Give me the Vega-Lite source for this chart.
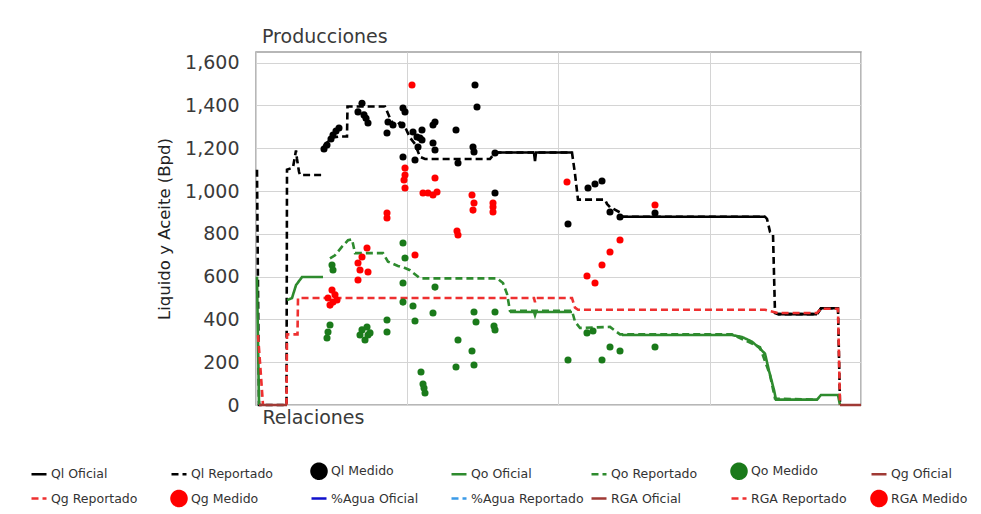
{
  "$schema": "https://vega.github.io/schema/vega-lite/v6.json",
  "width": 605,
  "height": 353,
  "autosize": "none",
  "padding": {"left": 256, "top": 52, "right": 120, "bottom": 109},
  "background": "white",
  "title": {"text": "Producciones", "anchor": "start", "frame": "group", "font": "DejaVu Sans", "fontSize": 19, "fontWeight": "normal", "color": "#3a3a3a", "offset": 5, "dx": 6},
  "config": {
    "view": {"stroke": "#a0a0a0", "strokeWidth": 1.5},
    "axis": {"gridColor": "#d4d4d4", "gridWidth": 1, "ticks": false, "domain": false}
  },
  "datasets": {
    "lineas": [
      {"serie": "Ql Reportado", "tramo": "a", "x": 1, "y": 1100},
      {"serie": "Ql Reportado", "tramo": "a", "x": 3, "y": 0},
      {"serie": "Ql Reportado", "tramo": "a", "x": 30.5, "y": 0},
      {"serie": "Ql Reportado", "tramo": "a", "x": 31, "y": 1100},
      {"serie": "Ql Reportado", "tramo": "a", "x": 37, "y": 1110},
      {"serie": "Ql Reportado", "tramo": "a", "x": 40, "y": 1190},
      {"serie": "Ql Reportado", "tramo": "a", "x": 41, "y": 1150},
      {"serie": "Ql Reportado", "tramo": "a", "x": 43, "y": 1090},
      {"serie": "Ql Reportado", "tramo": "a", "x": 44, "y": 1075},
      {"serie": "Ql Reportado", "tramo": "a", "x": 67, "y": 1075},
      {"serie": "Ql Reportado", "tramo": "b", "x": 67.5, "y": 1210},
      {"serie": "Ql Reportado", "tramo": "b", "x": 74, "y": 1240},
      {"serie": "Ql Reportado", "tramo": "b", "x": 77, "y": 1250},
      {"serie": "Ql Reportado", "tramo": "b", "x": 84, "y": 1255},
      {"serie": "Ql Reportado", "tramo": "b", "x": 91, "y": 1255},
      {"serie": "Ql Reportado", "tramo": "b", "x": 91.5, "y": 1395},
      {"serie": "Ql Reportado", "tramo": "b", "x": 129, "y": 1395},
      {"serie": "Ql Reportado", "tramo": "b", "x": 134, "y": 1340},
      {"serie": "Ql Reportado", "tramo": "b", "x": 139, "y": 1300},
      {"serie": "Ql Reportado", "tramo": "b", "x": 144, "y": 1320},
      {"serie": "Ql Reportado", "tramo": "b", "x": 149, "y": 1300},
      {"serie": "Ql Reportado", "tramo": "b", "x": 154, "y": 1250},
      {"serie": "Ql Reportado", "tramo": "b", "x": 159, "y": 1220},
      {"serie": "Ql Reportado", "tramo": "b", "x": 164, "y": 1160},
      {"serie": "Ql Reportado", "tramo": "b", "x": 169, "y": 1150},
      {"serie": "Ql Reportado", "tramo": "b", "x": 234, "y": 1150},
      {"serie": "Ql Reportado", "tramo": "b", "x": 239, "y": 1180},
      {"serie": "Ql Reportado", "tramo": "b", "x": 316, "y": 1180},
      {"serie": "Ql Reportado", "tramo": "b", "x": 319, "y": 1080},
      {"serie": "Ql Reportado", "tramo": "b", "x": 321, "y": 1000},
      {"serie": "Ql Reportado", "tramo": "b", "x": 322, "y": 960},
      {"serie": "Ql Reportado", "tramo": "b", "x": 349, "y": 960},
      {"serie": "Ql Reportado", "tramo": "b", "x": 351, "y": 940},
      {"serie": "Ql Reportado", "tramo": "b", "x": 354, "y": 925},
      {"serie": "Ql Reportado", "tramo": "b", "x": 364, "y": 900},
      {"serie": "Ql Reportado", "tramo": "b", "x": 366, "y": 880},
      {"serie": "Ql Reportado", "tramo": "b", "x": 509, "y": 880},
      {"serie": "Ql Reportado", "tramo": "b", "x": 511, "y": 870},
      {"serie": "Ql Reportado", "tramo": "b", "x": 514, "y": 810},
      {"serie": "Ql Reportado", "tramo": "b", "x": 517, "y": 800},
      {"serie": "Ql Reportado", "tramo": "b", "x": 519, "y": 430},
      {"serie": "Ql Reportado", "tramo": "b", "x": 522, "y": 425},
      {"serie": "Ql Reportado", "tramo": "b", "x": 561, "y": 425},
      {"serie": "Ql Reportado", "tramo": "b", "x": 565, "y": 452},
      {"serie": "Ql Reportado", "tramo": "b", "x": 582, "y": 452},
      {"serie": "Ql Reportado", "tramo": "b", "x": 584, "y": 0},
      {"serie": "Ql Oficial", "tramo": "a", "x": 239, "y": 1180},
      {"serie": "Ql Oficial", "tramo": "a", "x": 278, "y": 1180},
      {"serie": "Ql Oficial", "tramo": "a", "x": 279, "y": 1140},
      {"serie": "Ql Oficial", "tramo": "a", "x": 280, "y": 1180},
      {"serie": "Ql Oficial", "tramo": "a", "x": 316, "y": 1180},
      {"serie": "Ql Oficial", "tramo": "b", "x": 366, "y": 880},
      {"serie": "Ql Oficial", "tramo": "b", "x": 509, "y": 880},
      {"serie": "Ql Oficial", "tramo": "c", "x": 522, "y": 425},
      {"serie": "Ql Oficial", "tramo": "c", "x": 561, "y": 425},
      {"serie": "Ql Oficial", "tramo": "c", "x": 565, "y": 452},
      {"serie": "Ql Oficial", "tramo": "c", "x": 582, "y": 452},
      {"serie": "Qo Oficial", "tramo": "a", "x": 1, "y": 600},
      {"serie": "Qo Oficial", "tramo": "a", "x": 3, "y": 0},
      {"serie": "Qo Oficial", "tramo": "b", "x": 31, "y": 490},
      {"serie": "Qo Oficial", "tramo": "b", "x": 36, "y": 500},
      {"serie": "Qo Oficial", "tramo": "b", "x": 40, "y": 560},
      {"serie": "Qo Oficial", "tramo": "b", "x": 46, "y": 598},
      {"serie": "Qo Oficial", "tramo": "b", "x": 67, "y": 598},
      {"serie": "Qo Oficial", "tramo": "c", "x": 254, "y": 435},
      {"serie": "Qo Oficial", "tramo": "c", "x": 278, "y": 435},
      {"serie": "Qo Oficial", "tramo": "c", "x": 279, "y": 420},
      {"serie": "Qo Oficial", "tramo": "c", "x": 280, "y": 435},
      {"serie": "Qo Oficial", "tramo": "c", "x": 316, "y": 435},
      {"serie": "Qo Oficial", "tramo": "d", "x": 366, "y": 327},
      {"serie": "Qo Oficial", "tramo": "d", "x": 476, "y": 327},
      {"serie": "Qo Oficial", "tramo": "d", "x": 486, "y": 318},
      {"serie": "Qo Oficial", "tramo": "d", "x": 496, "y": 296},
      {"serie": "Qo Oficial", "tramo": "d", "x": 503, "y": 268},
      {"serie": "Qo Oficial", "tramo": "d", "x": 509, "y": 240},
      {"serie": "Qo Oficial", "tramo": "d", "x": 513, "y": 160},
      {"serie": "Qo Oficial", "tramo": "d", "x": 518, "y": 70},
      {"serie": "Qo Oficial", "tramo": "d", "x": 520, "y": 25},
      {"serie": "Qo Oficial", "tramo": "d", "x": 561, "y": 25},
      {"serie": "Qo Oficial", "tramo": "d", "x": 565, "y": 47},
      {"serie": "Qo Oficial", "tramo": "d", "x": 582, "y": 47},
      {"serie": "Qo Oficial", "tramo": "d", "x": 584, "y": 0},
      {"serie": "Qo Reportado", "tramo": "a", "x": 74, "y": 685},
      {"serie": "Qo Reportado", "tramo": "a", "x": 79, "y": 700},
      {"serie": "Qo Reportado", "tramo": "a", "x": 86, "y": 740},
      {"serie": "Qo Reportado", "tramo": "a", "x": 92, "y": 770},
      {"serie": "Qo Reportado", "tramo": "a", "x": 96, "y": 775},
      {"serie": "Qo Reportado", "tramo": "a", "x": 99, "y": 710},
      {"serie": "Qo Reportado", "tramo": "a", "x": 127, "y": 710},
      {"serie": "Qo Reportado", "tramo": "a", "x": 132, "y": 670},
      {"serie": "Qo Reportado", "tramo": "a", "x": 142, "y": 650},
      {"serie": "Qo Reportado", "tramo": "a", "x": 149, "y": 640},
      {"serie": "Qo Reportado", "tramo": "a", "x": 154, "y": 630},
      {"serie": "Qo Reportado", "tramo": "a", "x": 164, "y": 592},
      {"serie": "Qo Reportado", "tramo": "a", "x": 241, "y": 592},
      {"serie": "Qo Reportado", "tramo": "a", "x": 247, "y": 570},
      {"serie": "Qo Reportado", "tramo": "a", "x": 251, "y": 520},
      {"serie": "Qo Reportado", "tramo": "a", "x": 254, "y": 440},
      {"serie": "Qo Reportado", "tramo": "a", "x": 316, "y": 440},
      {"serie": "Qo Reportado", "tramo": "a", "x": 319, "y": 390},
      {"serie": "Qo Reportado", "tramo": "a", "x": 324, "y": 360},
      {"serie": "Qo Reportado", "tramo": "a", "x": 354, "y": 365},
      {"serie": "Qo Reportado", "tramo": "a", "x": 364, "y": 330},
      {"serie": "Qo Reportado", "tramo": "a", "x": 476, "y": 330},
      {"serie": "Qo Reportado", "tramo": "a", "x": 504, "y": 270},
      {"serie": "Qo Reportado", "tramo": "a", "x": 514, "y": 140},
      {"serie": "Qo Reportado", "tramo": "a", "x": 519, "y": 30},
      {"serie": "Qo Reportado", "tramo": "a", "x": 561, "y": 25},
      {"serie": "Qg Reportado", "tramo": "a", "x": 2, "y": 327},
      {"serie": "Qg Reportado", "tramo": "a", "x": 4, "y": 200},
      {"serie": "Qg Reportado", "tramo": "a", "x": 7, "y": 0},
      {"serie": "Qg Reportado", "tramo": "b", "x": 30.5, "y": 0},
      {"serie": "Qg Reportado", "tramo": "b", "x": 31, "y": 330},
      {"serie": "Qg Reportado", "tramo": "b", "x": 41.5, "y": 330},
      {"serie": "Qg Reportado", "tramo": "b", "x": 42, "y": 500},
      {"serie": "Qg Reportado", "tramo": "b", "x": 278, "y": 500},
      {"serie": "Qg Reportado", "tramo": "b", "x": 279, "y": 480},
      {"serie": "Qg Reportado", "tramo": "b", "x": 280, "y": 500},
      {"serie": "Qg Reportado", "tramo": "b", "x": 316, "y": 500},
      {"serie": "Qg Reportado", "tramo": "b", "x": 319, "y": 455},
      {"serie": "Qg Reportado", "tramo": "b", "x": 322, "y": 445},
      {"serie": "Qg Reportado", "tramo": "b", "x": 509, "y": 445},
      {"serie": "Qg Reportado", "tramo": "b", "x": 522, "y": 430},
      {"serie": "Qg Reportado", "tramo": "b", "x": 561, "y": 430},
      {"serie": "Qg Reportado", "tramo": "b", "x": 565, "y": 450},
      {"serie": "Qg Reportado", "tramo": "b", "x": 582, "y": 450},
      {"serie": "Qg Reportado", "tramo": "b", "x": 584, "y": 0},
      {"serie": "Qg Oficial", "tramo": "a", "x": 3, "y": 0},
      {"serie": "Qg Oficial", "tramo": "a", "x": 31, "y": 0},
      {"serie": "Qg Oficial", "tramo": "b", "x": 584, "y": 0},
      {"serie": "Qg Oficial", "tramo": "b", "x": 605, "y": 0}
    ],
    "puntos": [
      {"serie": "Ql Medido", "x": 68, "y": 1197}, {"serie": "Ql Medido", "x": 71, "y": 1215},
      {"serie": "Ql Medido", "x": 75, "y": 1243}, {"serie": "Ql Medido", "x": 77, "y": 1262},
      {"serie": "Ql Medido", "x": 80, "y": 1281}, {"serie": "Ql Medido", "x": 83, "y": 1295},
      {"serie": "Ql Medido", "x": 102, "y": 1370}, {"serie": "Ql Medido", "x": 106, "y": 1410},
      {"serie": "Ql Medido", "x": 108, "y": 1356}, {"serie": "Ql Medido", "x": 110, "y": 1340},
      {"serie": "Ql Medido", "x": 112, "y": 1318}, {"serie": "Ql Medido", "x": 131, "y": 1271},
      {"serie": "Ql Medido", "x": 132, "y": 1323}, {"serie": "Ql Medido", "x": 137, "y": 1309},
      {"serie": "Ql Medido", "x": 146, "y": 1309}, {"serie": "Ql Medido", "x": 147, "y": 1388},
      {"serie": "Ql Medido", "x": 149, "y": 1370}, {"serie": "Ql Medido", "x": 147, "y": 1159},
      {"serie": "Ql Medido", "x": 157, "y": 1276}, {"serie": "Ql Medido", "x": 159, "y": 1145},
      {"serie": "Ql Medido", "x": 161, "y": 1253}, {"serie": "Ql Medido", "x": 162, "y": 1206},
      {"serie": "Ql Medido", "x": 164, "y": 1248}, {"serie": "Ql Medido", "x": 166, "y": 1239},
      {"serie": "Ql Medido", "x": 166, "y": 1285}, {"serie": "Ql Medido", "x": 177, "y": 1309},
      {"serie": "Ql Medido", "x": 177, "y": 1225}, {"serie": "Ql Medido", "x": 179, "y": 1192},
      {"serie": "Ql Medido", "x": 179, "y": 1323}, {"serie": "Ql Medido", "x": 200, "y": 1285},
      {"serie": "Ql Medido", "x": 202, "y": 1131}, {"serie": "Ql Medido", "x": 217, "y": 1206},
      {"serie": "Ql Medido", "x": 218, "y": 1183}, {"serie": "Ql Medido", "x": 219, "y": 1496},
      {"serie": "Ql Medido", "x": 221, "y": 1393}, {"serie": "Ql Medido", "x": 239, "y": 1178},
      {"serie": "Ql Medido", "x": 239, "y": 991}, {"serie": "Ql Medido", "x": 312, "y": 846},
      {"serie": "Ql Medido", "x": 332, "y": 1014}, {"serie": "Ql Medido", "x": 339, "y": 1033},
      {"serie": "Ql Medido", "x": 346, "y": 1047}, {"serie": "Ql Medido", "x": 354, "y": 902},
      {"serie": "Ql Medido", "x": 364, "y": 879}, {"serie": "Ql Medido", "x": 399, "y": 897},
      {"serie": "Qg Medido", "x": 72, "y": 500}, {"serie": "Qg Medido", "x": 74, "y": 467},
      {"serie": "Qg Medido", "x": 76, "y": 537}, {"serie": "Qg Medido", "x": 77, "y": 481},
      {"serie": "Qg Medido", "x": 79, "y": 515}, {"serie": "Qg Medido", "x": 81, "y": 491},
      {"serie": "Qg Medido", "x": 102, "y": 664}, {"serie": "Qg Medido", "x": 102, "y": 584},
      {"serie": "Qg Medido", "x": 104, "y": 631}, {"serie": "Qg Medido", "x": 106, "y": 692},
      {"serie": "Qg Medido", "x": 111, "y": 734}, {"serie": "Qg Medido", "x": 112, "y": 622},
      {"serie": "Qg Medido", "x": 131, "y": 897}, {"serie": "Qg Medido", "x": 131, "y": 874},
      {"serie": "Qg Medido", "x": 149, "y": 1108}, {"serie": "Qg Medido", "x": 149, "y": 1075},
      {"serie": "Qg Medido", "x": 149, "y": 1014}, {"serie": "Qg Medido", "x": 148, "y": 1052},
      {"serie": "Qg Medido", "x": 156, "y": 1496}, {"serie": "Qg Medido", "x": 159, "y": 701},
      {"serie": "Qg Medido", "x": 167, "y": 991}, {"serie": "Qg Medido", "x": 172, "y": 991},
      {"serie": "Qg Medido", "x": 177, "y": 982}, {"serie": "Qg Medido", "x": 181, "y": 996},
      {"serie": "Qg Medido", "x": 179, "y": 1061}, {"serie": "Qg Medido", "x": 201, "y": 813},
      {"serie": "Qg Medido", "x": 202, "y": 795}, {"serie": "Qg Medido", "x": 216, "y": 982},
      {"serie": "Qg Medido", "x": 217, "y": 911}, {"serie": "Qg Medido", "x": 218, "y": 944},
      {"serie": "Qg Medido", "x": 237, "y": 944}, {"serie": "Qg Medido", "x": 237, "y": 902},
      {"serie": "Qg Medido", "x": 237, "y": 925}, {"serie": "Qg Medido", "x": 311, "y": 1042},
      {"serie": "Qg Medido", "x": 331, "y": 603}, {"serie": "Qg Medido", "x": 339, "y": 570},
      {"serie": "Qg Medido", "x": 346, "y": 654}, {"serie": "Qg Medido", "x": 354, "y": 715},
      {"serie": "Qg Medido", "x": 364, "y": 771}, {"serie": "Qg Medido", "x": 399, "y": 935},
      {"serie": "Qo Medido", "x": 76, "y": 654}, {"serie": "Qo Medido", "x": 77, "y": 631},
      {"serie": "Qo Medido", "x": 74, "y": 374}, {"serie": "Qo Medido", "x": 72, "y": 341},
      {"serie": "Qo Medido", "x": 71, "y": 313}, {"serie": "Qo Medido", "x": 104, "y": 327},
      {"serie": "Qo Medido", "x": 106, "y": 351}, {"serie": "Qo Medido", "x": 109, "y": 304},
      {"serie": "Qo Medido", "x": 111, "y": 365}, {"serie": "Qo Medido", "x": 112, "y": 327},
      {"serie": "Qo Medido", "x": 114, "y": 337}, {"serie": "Qo Medido", "x": 131, "y": 397},
      {"serie": "Qo Medido", "x": 131, "y": 341}, {"serie": "Qo Medido", "x": 147, "y": 757},
      {"serie": "Qo Medido", "x": 149, "y": 687}, {"serie": "Qo Medido", "x": 147, "y": 570},
      {"serie": "Qo Medido", "x": 147, "y": 481}, {"serie": "Qo Medido", "x": 157, "y": 463},
      {"serie": "Qo Medido", "x": 159, "y": 393}, {"serie": "Qo Medido", "x": 165, "y": 154},
      {"serie": "Qo Medido", "x": 167, "y": 98}, {"serie": "Qo Medido", "x": 168, "y": 79},
      {"serie": "Qo Medido", "x": 169, "y": 56}, {"serie": "Qo Medido", "x": 177, "y": 430},
      {"serie": "Qo Medido", "x": 179, "y": 551}, {"serie": "Qo Medido", "x": 200, "y": 178},
      {"serie": "Qo Medido", "x": 202, "y": 304}, {"serie": "Qo Medido", "x": 216, "y": 252},
      {"serie": "Qo Medido", "x": 218, "y": 187}, {"serie": "Qo Medido", "x": 218, "y": 435},
      {"serie": "Qo Medido", "x": 220, "y": 388}, {"serie": "Qo Medido", "x": 238, "y": 369},
      {"serie": "Qo Medido", "x": 239, "y": 435}, {"serie": "Qo Medido", "x": 239, "y": 351},
      {"serie": "Qo Medido", "x": 312, "y": 210}, {"serie": "Qo Medido", "x": 331, "y": 337},
      {"serie": "Qo Medido", "x": 337, "y": 346}, {"serie": "Qo Medido", "x": 346, "y": 210},
      {"serie": "Qo Medido", "x": 354, "y": 271}, {"serie": "Qo Medido", "x": 364, "y": 252},
      {"serie": "Qo Medido", "x": 399, "y": 271}
    ]
  },
  "layer": [
    {
      "data": {"name": "lineas"},
      "mark": {"type": "line", "strokeWidth": 2.6},
      "encoding": {
        "x": {"field": "x", "type": "quantitative", "scale": {"domain": [0, 605], "nice": false, "zero": false},
          "axis": {"title": "Relaciones", "titleFont": "DejaVu Sans", "titleFontSize": 19, "titleFontWeight": "normal", "titleColor": "#3a3a3a", "titleAnchor": "start", "titleAlign": "left", "titleX": 6, "titleY": 18, "titleBaseline": "alphabetic", "labels": false, "values": [0, 151, 302, 454, 605]}},
        "y": {"field": "y", "type": "quantitative", "scale": {"domain": [0, 1650], "nice": false},
          "axis": {"title": "Liquido y Aceite (Bpd)", "titleFont": "DejaVu Sans", "titleFontSize": 16.5, "titleFontWeight": "normal", "titleColor": "#222222", "titlePadding": 12, "values": [0, 200, 400, 600, 800, 1000, 1200, 1400, 1600], "format": ",d", "labelFont": "DejaVu Sans", "labelFontSize": 19, "labelColor": "#3a3a3a", "labelPadding": 17}},
        "color": {"field": "serie", "type": "nominal",
          "scale": {
            "domain": ["Ql Oficial", "Ql Reportado", "Ql Medido", "Qo Oficial", "Qo Reportado", "Qo Medido", "Qg Oficial", "Qg Reportado", "Qg Medido", "%Agua Oficial", "%Agua Reportado", "RGA Oficial", "RGA Reportado", "RGA Medido"],
            "range": ["#000000", "#000000", "#000000", "#2e8b2e", "#2e8b2e", "#1a7a1a", "#a03a35", "#ee3030", "#ff0000", "#1010cc", "#3b9be8", "#a03a35", "#ee3030", "#ff0000"]
          },
          "legend": {
            "orient": "none", "legendX": -226, "legendY": 410, "direction": "horizontal", "columns": 7, "gridAlign": "all",
            "columnPadding": 2, "rowPadding": 1.5, "title": null, "symbolSize": 225, "symbolType": "stroke", "symbolStrokeWidth": 2.5,
            "labelFont": "DejaVu Sans", "labelFontSize": 12.5, "labelColor": "#333333", "labelOffset": 3, "labelLimit": 200,
            "encode": {"symbols": {"update": {
              "shape": {"signal": "indexof(datum.value, 'Medido') >= 0 ? 'circle' : 'stroke'"},
              "fill": {"signal": "indexof(datum.value, 'Medido') < 0 ? 'transparent' : indexof(datum.value, 'Ql') >= 0 ? '#000000' : indexof(datum.value, 'Qo') >= 0 ? '#1a7a1a' : '#ff0000'"}
            }}}
          }
        },
        "strokeDash": {"field": "serie", "type": "nominal",
          "scale": {
            "domain": ["Ql Oficial", "Ql Reportado", "Ql Medido", "Qo Oficial", "Qo Reportado", "Qo Medido", "Qg Oficial", "Qg Reportado", "Qg Medido", "%Agua Oficial", "%Agua Reportado", "RGA Oficial", "RGA Reportado", "RGA Medido"],
            "range": [[1, 0], [7, 4], [1, 0], [1, 0], [7, 4], [1, 0], [1, 0], [7, 4], [1, 0], [1, 0], [7, 4], [1, 0], [7, 4], [1, 0]]
          },
          "legend": null},
        "detail": {"field": "tramo"}
      }
    },
    {
      "data": {"name": "puntos"},
      "mark": {"type": "point", "filled": true, "size": 50, "opacity": 1},
      "encoding": {
        "x": {"field": "x", "type": "quantitative"},
        "y": {"field": "y", "type": "quantitative"},
        "color": {"field": "serie", "type": "nominal"}
      }
    }
  ]
}
